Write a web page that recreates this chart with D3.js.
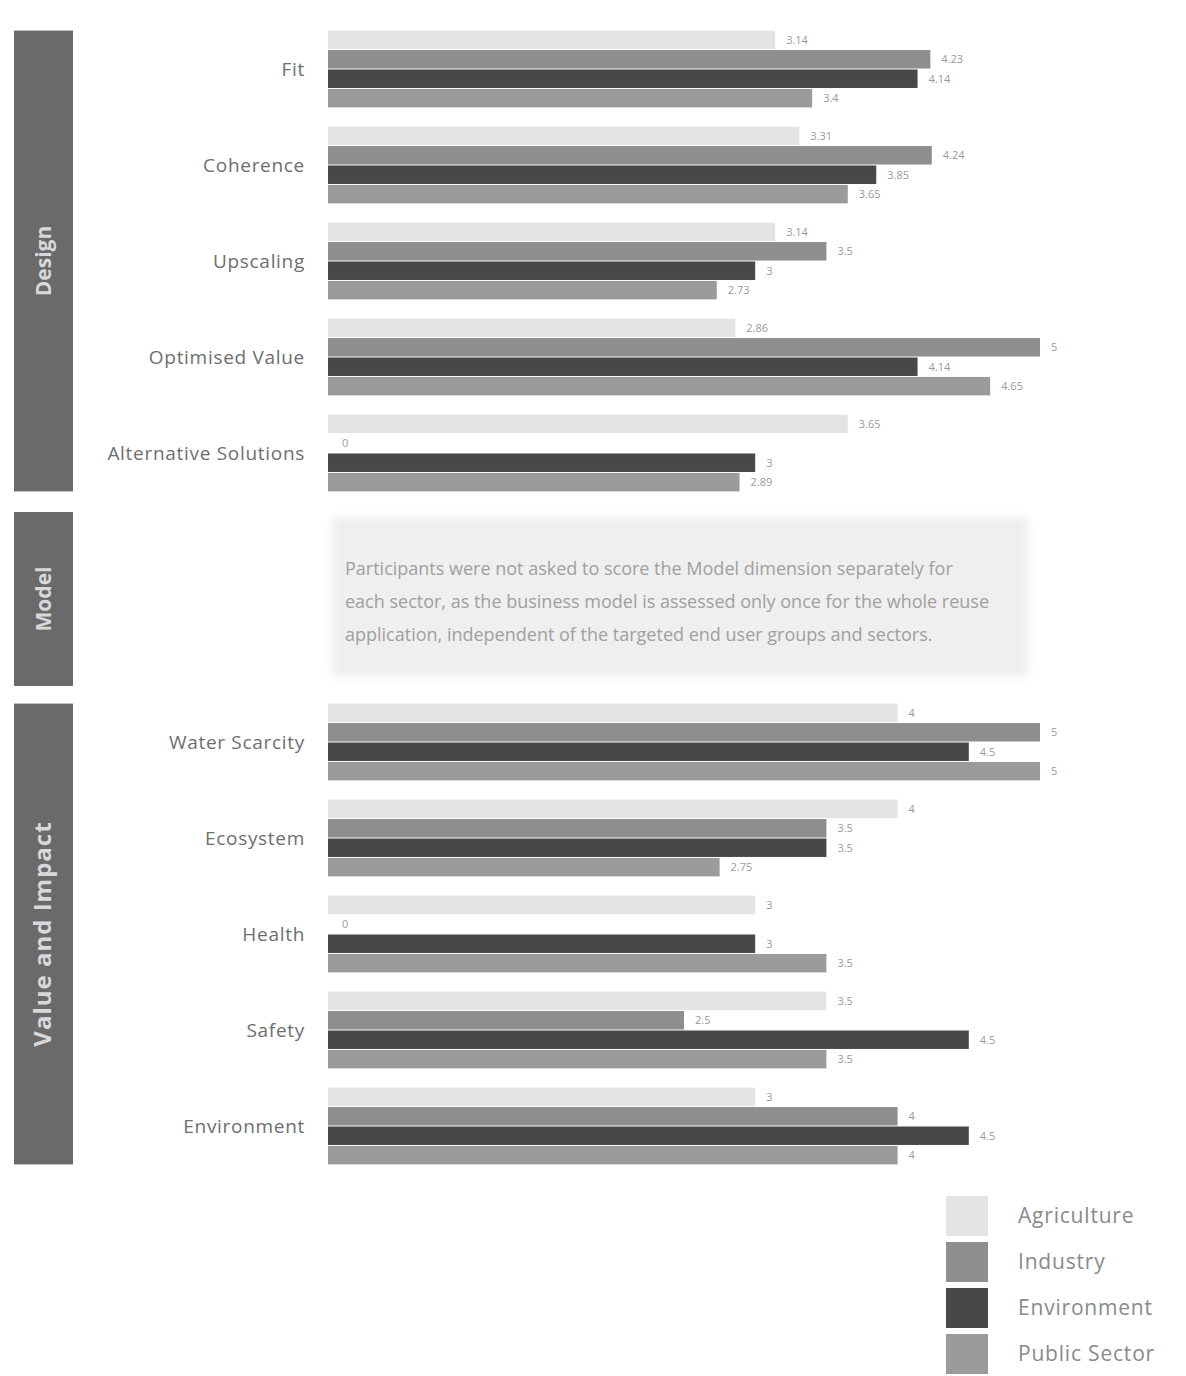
<!DOCTYPE html>
<html>
<head>
<meta charset="utf-8">
<script src="https://cdn.jsdelivr.net/npm/d3@7"></script>
<style>
  html, body { margin: 0; padding: 0; background: #fff; }
  svg { display: block; font-family: "Open Sans", "DejaVu Sans", sans-serif; }
</style>
</head>
<body>
<svg id="chart" width="1186" height="1376"></svg>
<script>
// ---- Data ----
const sectors = ["Agriculture", "Industry", "Environment", "Public Sector"];
const sectorColors = ["#e4e4e4", "#8e8e8e", "#484848", "#9b9b9b"];

const sectionNames = ["Design", "Model", "Value and Impact"];

const designCriteria = ["Fit", "Coherence", "Upscaling", "Optimised Value", "Alternative Solutions"];
const designAgriculture  = [3.14, 3.31, 3.14, 2.86, 3.65];
const designIndustry     = [4.23, 4.24, 3.5, 5, 0];
const designEnvironment  = [4.14, 3.85, 3, 4.14, 3];
const designPublicSector = [3.4, 3.65, 2.73, 4.65, 2.89];

const impactCriteria = ["Water Scarcity", "Ecosystem", "Health", "Safety", "Environment"];
const impactAgriculture  = [4, 4, 3, 3.5, 3];
const impactIndustry     = [5, 3.5, 0, 2.5, 4];
const impactEnvironment  = [4.5, 3.5, 3, 4.5, 4.5];
const impactPublicSector = [5, 2.75, 3.5, 3.5, 4];

const modelNote = [
  "Participants were not asked to score the Model dimension separately for",
  "each sector, as the business model is assessed only once for the whole reuse",
  "application, independent of the targeted end user groups and sectors."
];

// ---- Setup ----
const svg = d3.select("#chart");
const x = d3.scaleLinear().domain([0, 5]).range([328, 1040]);

function drawSection(criteria, seriesList, range) {
  const y = d3.scaleBand().domain(criteria).range(range).paddingInner(0.2).paddingOuter(0.1);
  const ySub = d3.scaleBand().domain(sectors).range([0, y.bandwidth()]).paddingInner(0.05);
  const g = svg.append("g");

  criteria.forEach((c, i) => {
    const cg = g.append("g").attr("transform", `translate(0,${y(c)})`);
    sectors.forEach((s, j) => {
      const v = seriesList[j][i];
      cg.append("rect")
        .attr("x", x(0))
        .attr("y", ySub(s))
        .attr("width", x(v) - x(0))
        .attr("height", ySub.bandwidth())
        .attr("fill", sectorColors[j]);
      cg.append("text")
        .attr("x", x(v) + (v === 0 ? 14 : 11))
        .attr("y", ySub(s) + ySub.bandwidth() / 2)
        .attr("dy", "0.35em")
        .attr("font-size", 11)
        .attr("fill", "#9a9a9a")
        .text(String(v));
    });
    g.append("text")
      .attr("x", 305)
      .attr("y", y(c) + y.bandwidth() / 2)
      .attr("dy", "0.35em")
      .attr("text-anchor", "end")
      .attr("font-size", 19)
      .attr("letter-spacing", 0.7)
      .attr("fill", "#6e6e6e")
      .text(c);
  });
  return [y(criteria[0]), y(criteria[criteria.length - 1]) + y.bandwidth()];
}

const s1 = drawSection(designCriteria,
  [designAgriculture, designIndustry, designEnvironment, designPublicSector], [21, 501]);
const s3 = drawSection(impactCriteria,
  [impactAgriculture, impactIndustry, impactEnvironment, impactPublicSector], [694, 1174]);
const s2 = [512, 686];

// ---- Model note box ----
const defs = svg.append("defs");
const blur = defs.append("filter").attr("id", "soft").attr("x", "-5%").attr("y", "-10%").attr("width", "110%").attr("height", "120%");
blur.append("feGaussianBlur").attr("stdDeviation", 4);

svg.append("rect")
  .attr("x", 332).attr("y", 517).attr("width", 696).attr("height", 160)
  .attr("fill", "#efefef").attr("filter", "url(#soft)");
svg.append("text")
  .attr("x", 345).attr("y", 575)
  .attr("font-size", 18).attr("fill", "#a0a0a0")
  .selectAll("tspan").data(modelNote).join("tspan")
  .attr("x", 345).attr("dy", (d, i) => i === 0 ? 0 : 33)
  .text(d => d);

// ---- Section side bands ----
[s1, s2, s3].forEach((r, i) => {
  svg.append("rect")
    .attr("x", 14).attr("y", r[0]).attr("width", 59).attr("height", r[1] - r[0])
    .attr("fill", "#6a6a6a");
  const cy = (r[0] + r[1]) / 2;
  svg.append("text")
    .attr("transform", `translate(51,${cy}) rotate(-90)`)
    .attr("text-anchor", "middle")
    .attr("font-size", i === 2 ? 24 : 21)
    .attr("letter-spacing", i === 2 ? 1 : 0)
    .attr("font-weight", "bold")
    .attr("fill", "#d8d8d8")
    .text(sectionNames[i]);
});

// ---- Legend ----
const legend = svg.append("g").attr("transform", "translate(946,1196)");
sectors.forEach((s, i) => {
  const lg = legend.append("g").attr("transform", `translate(0,${i * 46})`);
  lg.append("rect").attr("width", 42).attr("height", 40).attr("fill", sectorColors[i]);
  lg.append("text").attr("x", 72).attr("y", 20).attr("dy", "0.35em")
    .attr("font-size", 21).attr("letter-spacing", 0.8).attr("fill", "#8a8a8a").text(s);
});
</script>
</body>
</html>
